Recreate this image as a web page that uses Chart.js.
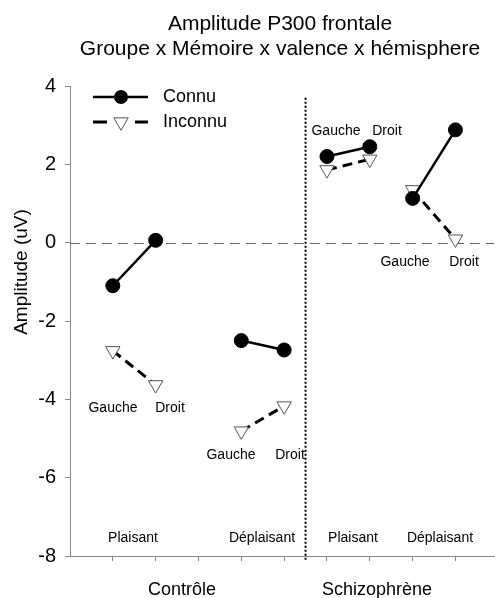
<!DOCTYPE html>
<html><head><meta charset="utf-8">
<script src="https://cdn.jsdelivr.net/npm/chart.js@4/dist/chart.umd.min.js"></script>
<style>html,body{margin:0;padding:0;background:#fff}#wrap{width:495px;height:598px}</style>
</head><body><div id="wrap"><canvas id="c" width="495" height="598"></canvas></div>
<script>
const groups = ['Contrôle', 'Schizophrène'];
const valences = ['Plaisant', 'Déplaisant', 'Plaisant', 'Déplaisant'];
const hemispheres = ['Gauche', 'Droit'];
const seriesNames = ['Connu', 'Inconnu'];
const xPositions = [1, 2, 4, 5, 6, 7, 8, 9];
const connu = [-1.10, 0.06, -2.50, -2.74, 2.20, 2.45, 1.13, 2.88];
const inconnu = [-2.76, -3.63, -4.81, -4.17, 1.86, 2.13, 1.35, 0.09];
const yTicks = [4, 2, 0, -2, -4, -6, -8];
const titleLines = ['Amplitude P300 frontale', 'Groupe x Mémoire x valence x hémisphere'];
const yTitle = 'Amplitude (uV)';

const FONT = '"Liberation Sans", Arial, sans-serif';

function pairData(vals, g) {
  return [0, 1].map(k => ({ x: xPositions[2 * g + k], y: vals[2 * g + k] }));
}
const datasets = [];
for (let g = 0; g < 4; g++) {
  datasets.push({
    label: seriesNames[0], data: pairData(connu, g), order: 0,
    borderColor: '#000', borderWidth: 2.5, pointRadius: 7, pointHoverRadius: 7,
    pointBackgroundColor: '#000', pointBorderColor: '#000', pointBorderWidth: 1
  });
}
for (let g = 0; g < 4; g++) {
  datasets.push({
    label: seriesNames[1], data: pairData(inconnu, g), order: 1,
    borderColor: '#000', borderWidth: 3, borderDash: [10, 6],
    pointStyle: 'triangle', rotation: 180, pointRadius: 8.3, pointHoverRadius: 8.3,
    pointBackgroundColor: '#fff', pointBorderColor: '#555', pointBorderWidth: 1
  });
}

const annot = {
  id: 'annot',
  beforeDatasetsDraw(chart) {
    const ctx = chart.ctx, x = chart.scales.x, y = chart.scales.y, a = chart.chartArea;
    ctx.save();
    ctx.strokeStyle = '#666'; ctx.lineWidth = 1; ctx.setLineDash([10, 6]);
    const y0 = Math.round(y.getPixelForValue(0)) + 0.5;
    ctx.beginPath(); ctx.moveTo(a.left, y0); ctx.lineTo(a.right, y0); ctx.stroke();
    ctx.strokeStyle = '#000'; ctx.lineWidth = 2; ctx.setLineDash([2, 2]);
    const xs = x.getPixelForValue(5.5);
    ctx.beginPath(); ctx.moveTo(xs, y.getPixelForValue(3.7)); ctx.lineTo(xs, a.bottom + 5); ctx.stroke();
    ctx.restore();
  },
  afterDraw(chart) {
    const ctx = chart.ctx;
    ctx.save();
    ctx.fillStyle = '#000';
    ctx.textAlign = 'center'; ctx.textBaseline = 'middle';
    ctx.font = '21px ' + FONT;
    ctx.fillText(titleLines[0], 280, 24);
    ctx.fillText(titleLines[1], 280, 49);
    ctx.save();
    ctx.font = '19px ' + FONT;
    ctx.translate(22, 272); ctx.rotate(-Math.PI / 2);
    ctx.fillText(yTitle, 0, 0);
    ctx.restore();
    ctx.font = '18px ' + FONT;
    ctx.fillText(groups[0], 182, 590);
    ctx.fillText(groups[1], 377, 590);
    ctx.font = '14px ' + FONT;
    const hemi = [[113, 408, 170, 408], [231, 455, 290, 455], [336, 131, 387, 131], [405, 262, 464, 262]];
    hemi.forEach(h => {
      ctx.fillText(hemispheres[0], h[0], h[1]);
      ctx.fillText(hemispheres[1], h[2], h[3]);
    });
    const valX = [133, 262, 353, 440];
    valences.forEach((v, i) => ctx.fillText(v, valX[i], 538));
    // legend
    ctx.strokeStyle = '#000'; ctx.lineWidth = 2.5; ctx.setLineDash([]);
    ctx.beginPath(); ctx.moveTo(93, 97); ctx.lineTo(148, 97); ctx.stroke();
    ctx.beginPath(); ctx.arc(121, 97, 7, 0, Math.PI * 2); ctx.fill();
    ctx.lineWidth = 3;
    ctx.beginPath(); ctx.moveTo(93, 122); ctx.lineTo(107, 122); ctx.moveTo(135, 122); ctx.lineTo(148, 122); ctx.stroke();
    const r = 8.3, cx = 121, cy = 122;
    ctx.beginPath();
    for (let k = 0; k < 3; k++) {
      const ang = Math.PI + k * 2 * Math.PI / 3;
      const px = cx + Math.sin(ang) * r, py = cy - Math.cos(ang) * r;
      if (k === 0) ctx.moveTo(px, py); else ctx.lineTo(px, py);
    }
    ctx.closePath();
    ctx.fillStyle = '#fff'; ctx.fill();
    ctx.strokeStyle = '#555'; ctx.lineWidth = 1; ctx.stroke();
    ctx.fillStyle = '#000';
    ctx.textAlign = 'left';
    ctx.font = '18px ' + FONT;
    ctx.fillText(seriesNames[0], 163, 97);
    ctx.fillText(seriesNames[1], 163, 122);
    ctx.restore();
  }
};

new Chart(document.getElementById('c'), {
  type: 'line',
  data: { datasets },
  options: {
    responsive: false, devicePixelRatio: 1, animation: false,
    layout: { autoPadding: false, padding: { top: 86, right: 1, left: 0, bottom: 0 } },
    plugins: { legend: { display: false }, tooltip: { enabled: false }, title: { display: false } },
    scales: {
      x: {
        type: 'linear', min: 0, max: 9.9,
        afterBuildTicks: s => { s.ticks = xPositions.concat([3]).sort((p, q) => p - q).map(v => ({ value: v })); },
        afterFit: s => { s.height = 42; s.paddingLeft = 0; s.paddingRight = 0; },
        ticks: { callback: () => '', font: { size: 1 }, maxRotation: 0, autoSkip: false },
        grid: { drawOnChartArea: false, drawTicks: true, tickLength: 5, color: '#888' },
        border: { color: '#888', width: 1 }
      },
      y: {
        min: -8, max: 4,
        afterBuildTicks: s => { s.ticks = yTicks.map(v => ({ value: v })); },
        afterFit: s => { s.width = 70; s.paddingTop = 0; s.paddingBottom = 0; },
        ticks: { color: '#000', font: { size: 20, family: FONT }, padding: 9 },
        grid: { drawOnChartArea: false, drawTicks: true, tickLength: 5, color: '#888' },
        border: { color: '#888', width: 1 }
      }
    }
  },
  plugins: [annot]
});
</script>
</body></html>
